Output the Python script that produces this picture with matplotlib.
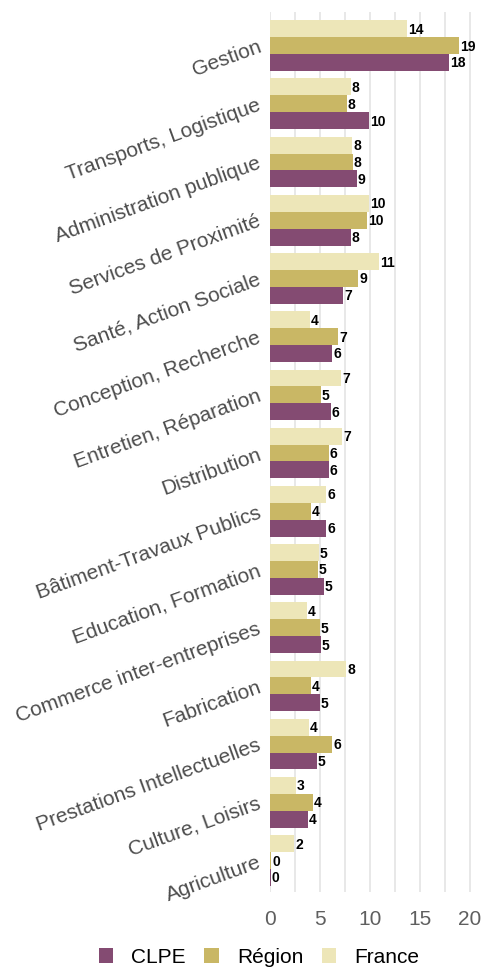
import numpy as np
import matplotlib.pyplot as plt

plt.rcParams['font.family'] = ['Liberation Sans', 'DejaVu Sans']

categories = ["Gestion", "Transports, Logistique", "Administration publique",
              "Services de Proximité", "Santé, Action Sociale", "Conception, Recherche",
              "Entretien, Réparation", "Distribution", "Bâtiment-Travaux Publics",
              "Education, Formation", "Commerce inter-entreprises", "Fabrication",
              "Prestations Intellectuelles", "Culture, Loisirs", "Agriculture"]
clpe = [17.9, 9.9, 8.7, 8.1, 7.3, 6.2, 6.1, 5.9, 5.6, 5.4, 5.1, 5.0, 4.7, 3.8, 0.1]
region = [18.9, 7.7, 8.3, 9.7, 8.8, 6.8, 5.1, 5.9, 4.1, 4.8, 5.0, 4.1, 6.2, 4.3, 0.13]
france = [13.7, 8.1, 8.2, 9.9, 10.9, 4.0, 7.1, 7.2, 5.6, 4.9, 3.7, 7.6, 3.9, 2.6, 2.4]

series = [("France", france, "#ede6b8"),
          ("Région", region, "#c9b765"),
          ("CLPE", clpe, "#844b72")]

fig = plt.figure(figsize=(4.95, 9.7), dpi=100)
ax = fig.add_axes([270 / 495, 1 - 893 / 970, 220 / 495, 880 / 970])

y = np.arange(len(categories))
h = 0.29
handles = {}
for k, (name, vals, col) in enumerate(series):
    pos = y + (k - 1) * h
    bars = ax.barh(pos, vals, height=h, color=col, zorder=2)
    handles[name] = bars
    for p, v in zip(pos, vals):
        ax.text(v + 0.1, p, f"{v:.0f}", va="center", ha="left",
                fontsize=10, fontweight="bold", color="black", zorder=3)

ax.set_ylim(14.54, -0.576)
ax.set_xlim(0, 22)
ax.set_xticks([0, 5, 10, 15, 20])
ax.set_xticks(np.arange(2.5, 22, 5), minor=True)
ax.grid(axis="x", which="both", color="#e6e6e6", linewidth=1.3, zorder=0)
ax.set_axisbelow(True)
for s in ax.spines.values():
    s.set_visible(False)

ax.set_yticks(y)
ax.set_yticklabels(categories, rotation=20, ha="right", va="center",
                   rotation_mode="anchor", fontsize=15, color="#4d4d4d")
ax.tick_params(axis="y", length=0, pad=7)
ax.tick_params(axis="x", which="both", length=0, pad=12, labelsize=15,
               labelcolor="#5f5f5f")

leg = fig.legend([handles["CLPE"], handles["Région"], handles["France"]],
                 ["CLPE", "Région", "France"], loc="center",
                 bbox_to_anchor=(259 / 495, 1 - 958 / 970), ncol=3, frameon=False,
                 fontsize=15, handlelength=0.68, handleheight=0.72,
                 handletextpad=0.87, columnspacing=0.9)

fig.savefig("out.png", dpi=100)
